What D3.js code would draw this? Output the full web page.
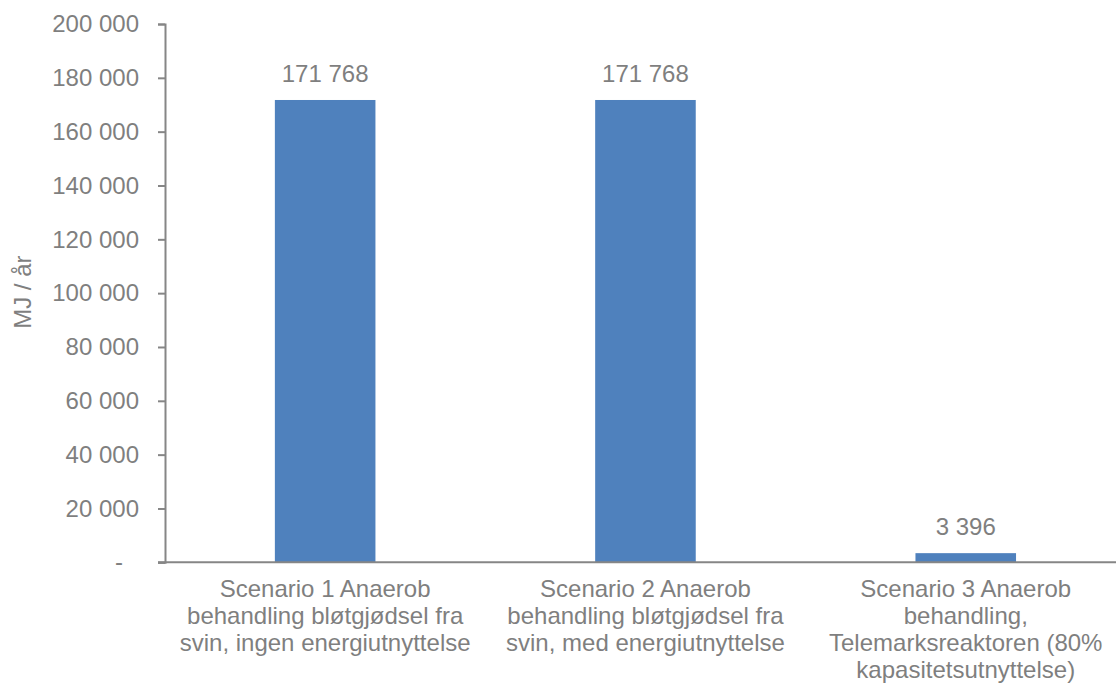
<!DOCTYPE html>
<html>
<head>
<meta charset="utf-8">
<script src="https://cdn.jsdelivr.net/npm/d3@7"></script>
<style>
  html, body { margin: 0; padding: 0; background: #ffffff; }
  svg { display: block; }
  text { font-family: "Liberation Sans", Arial, sans-serif; fill: #7f7f7f; }
</style>
</head>
<body>
<svg id="chart" width="1116" height="686"></svg>
<script>
// Annual energy use per scenario (MJ / år)
const categories = [
  "Scenario 1 Anaerob\nbehandling bløtgjødsel fra\nsvin, ingen energiutnyttelse",
  "Scenario 2 Anaerob\nbehandling bløtgjødsel fra\nsvin, med energiutnyttelse",
  "Scenario 3 Anaerob\nbehandling,\nTelemarksreaktoren (80%\nkapasitetsutnyttelse)"
];
const values = [171768, 171768, 3396];
const yTicks = [0, 20000, 40000, 60000, 80000, 100000, 120000, 140000, 160000, 180000, 200000];
const yTitle = "MJ / år";

const W = 1116, H = 686;
const margin = { left: 165, top: 24, bottom: 562.3 };
const fontSize = 24;
const axisColor = "#868686";
const barColor = "#4f81bd";

const svg = d3.select("#chart");

const nb = d3.formatLocale({ decimal: ",", thousands: " ", grouping: [3], currency: ["", ""] });
const fmt = nb.format(",.0f");

const x = d3.scaleBand()
  .domain(categories)
  .range([margin.left, margin.left + 3 * 320.3])
  .paddingInner(0.686)
  .paddingOuter(0.343);

const y = d3.scaleLinear()
  .domain([0, 200000])
  .range([margin.bottom, margin.top]);

// Bars
svg.append("g").selectAll("rect")
  .data(values)
  .join("rect")
  .attr("x", (d, i) => x(categories[i]))
  .attr("width", x.bandwidth())
  .attr("y", d => y(d))
  .attr("height", d => y(0) - y(d))
  .attr("fill", barColor);

// Value labels
svg.append("g").selectAll("text")
  .data(values)
  .join("text")
  .attr("x", (d, i) => x(categories[i]) + x.bandwidth() / 2)
  .attr("y", d => y(d) - 18)
  .attr("text-anchor", "middle")
  .style("font-size", fontSize + "px")
  .text(d => fmt(d));

// Y axis
const yAxis = d3.axisLeft(y)
  .tickValues(yTicks)
  .tickSize(7)
  .tickPadding(19)
  .tickFormat(d => d === 0 ? "-" : fmt(d));

const gy = svg.append("g")
  .attr("transform", `translate(${margin.left},0)`)
  .call(yAxis);
gy.select(".domain").attr("stroke", axisColor).attr("stroke-width", 2);
gy.selectAll(".tick line").attr("stroke", axisColor).attr("stroke-width", 2);
gy.selectAll(".tick text")
  .attr("fill", "#7f7f7f")
  .attr("font-family", null)
  .attr("font-size", null)
  .style("font-size", fontSize + "px")
  .attr("dx", d => d === 0 ? -16 : 0);

// X axis baseline
svg.append("line")
  .attr("x1", margin.left - 7)
  .attr("x2", W)
  .attr("y1", y(0))
  .attr("y2", y(0))
  .attr("stroke", axisColor)
  .attr("stroke-width", 2);

// Category labels
const lineH = 27;
svg.append("g").selectAll("text")
  .data(categories)
  .join("text")
  .attr("text-anchor", "middle")
  .style("font-size", fontSize + "px")
  .each(function (c) {
    const t = d3.select(this);
    const cx = x(c) + x.bandwidth() / 2;
    c.split("\n").forEach((line, j) => {
      t.append("tspan")
        .attr("x", cx)
        .attr("y", 597 + j * lineH)
        .text(line);
    });
  });

// Y axis title
svg.append("text")
  .attr("transform", `translate(31,${(margin.top + margin.bottom) / 2 - 1}) rotate(-90)`)
  .attr("text-anchor", "middle")
  .style("font-size", fontSize + "px")
  .text(yTitle);
</script>
</body>
</html>
